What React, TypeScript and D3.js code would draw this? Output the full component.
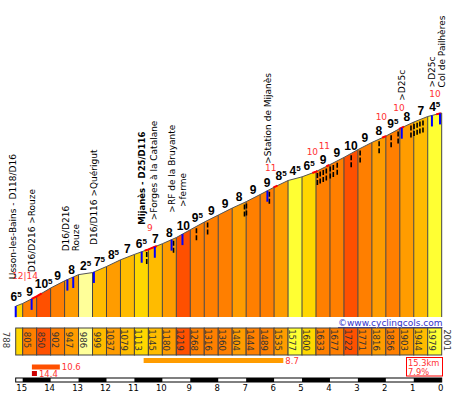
import React from 'react';
import * as d3 from 'd3';

// distance to the summit (km) for each altitude point
const kms = [15.25, 15, 14.5, 14, 13.5, 13, 12.5, 12, 11.5, 11, 10.5, 10, 9.5, 9, 8.5, 8,
  7.5, 7, 6.5, 6, 5.5, 5, 4.5, 4, 3.5, 3, 2.5, 2, 1.5, 1, 0.5, 0];
const altitudes = [788, 805, 850, 902, 947, 986, 999, 1037, 1079, 1113, 1145, 1180, 1219, 1268,
  1316, 1360, 1404, 1444, 1489, 1535, 1577, 1600, 1633, 1677, 1722, 1771, 1816, 1856, 1903,
  1944, 1979, 2001];
const gradients = ['6.5', '9', '10.5', '9', '8', '2.5', '7.5', '8.5', '7', '6.5', '7', '8', '10',
  '9.5', '9', '9', '8', '9', '9', '8.5', '4.5', '6.5', '9', '9', '10', '9', '8', '9.5', '8', '7', '4.5'];
const kmTicks = [15, 14, 13, 12, 11, 10, 9, 8, 7, 6, 5, 4, 3, 2, 1, 0];

const places = [
  { name: 'Usson-les-Bains - D118/D16', km: 15.38, bold: false },
  { name: 'D16/D216 >Rouze', km: 14.7, bold: false },
  { name: 'D16/D216\nRouze', km: 13.3, bold: false },
  { name: 'D16/D116 >Quérigut', km: 12.45, bold: false },
  { name: 'Mijanès - D25/D116', km: 10.74, bold: true },
  { name: '>Forges à la Catalane', km: 10.31, bold: false },
  { name: '>RF de la Bruyante', km: 9.67, bold: false },
  { name: '>ferme', km: 9.28, bold: false },
  { name: '>Station de Mijanès', km: 6.24, bold: false },
  { name: '>D25c', km: 1.43, bold: false },
  { name: '>D25c\nCol de Pailhères', km: 0.2, bold: false },
];
const junctionKms = [15.25, 14.68, 13.4, 13.19, 12.45, 10.74, 10.27, 9.67, 9.28, 6.24, 1.43, 0.35, 0.06];
const hairpinKms = [10.56, 9.6, 8.78, 8.38, 7.06, 6.99, 6.17, 4.45, 4.35, 4.24, 4.13, 3.99, 3.88,
  3.74, 3.24, 2.92, 2.24, 1.81, 1.56, 1.1, 0.99, 0.88, 0.78, 0.67];
const steepSections = [[14.68, 14.32], [10.63, 10.2], [6.02, 5.88], [4.63, 4.45], [4.13, 4.03],
  [2.13, 1.99], [1.53, 1.35], [0.2, 0.03]];
const steepLabels = [
  { km: 14.92, text: '12|14' }, { km: 10.45, text: '9' }, { km: 6.12, text: '11' },
  { km: 4.63, text: '10' }, { km: 4.2, text: '11' }, { km: 2.16, text: '10' },
  { km: 1.53, text: '10' }, { km: 0.24, text: '10' },
];
const maxGrades = [
  { km: 10.67, dist: 5, grade: 8.7 },
  { km: 14.67, dist: 1, grade: 10.6 },
  { km: 14.67, dist: 0.18, grade: 14.4 },
];
const totalDist = '15.3km';
const avgGrade = '7.9%';

const W = 457;
const H = 395;
const base = 317;
const cellTop = 328;
const cellH = 27;
const font = 'DejaVu Sans';

const gradeColor = (g: number) => {
  if (g >= 12) return '#CC0000';
  if (g >= 10) return '#FF5000';
  if (g >= 9) return '#FF7F00';
  if (g >= 8) return '#FF9C00';
  if (g >= 7) return '#FFBB00';
  if (g >= 5) return '#FFD700';
  if (g >= 3) return '#FFFF33';
  return '#FFFF99';
};

const App = () => {
  const x = d3.scaleLinear().domain([15.25, 0]).range([15.7, 441.7]);
  const y = d3.scaleLinear().domain([720, 2001]).range([base, 113]);
  const altAt = d3.scaleLinear().domain(kms).range(altitudes).clamp(true);
  const py = (km: number) => y(altAt(km));

  const pts = kms.map((k, i) => [k, altitudes[i]] as [number, number]);
  const line = d3.line<[number, number]>().x(d => x(d[0])).y(d => y(d[1]));
  const area = d3.area<[number, number]>().x(d => x(d[0])).y0(base).y1(d => y(d[1]));

  return (
    <svg width={W} height={H} style={{ position: 'absolute', left: 0, top: 0, background: '#fff' }}
      fontFamily={font}>
      {/* gradient bands */}
      {gradients.map((g, i) => (
        <path key={'b' + i} d={area([pts[i], pts[i + 1]]) as string} fill={gradeColor(+g)} />
      ))}
      {kms.map((k, i) => (
        <line key={'s' + i} x1={x(k)} x2={x(k)} y1={y(altitudes[i])} y2={base} stroke="#444" strokeWidth={1} />
      ))}
      <path d={line(pts) as string} fill="none" stroke="#555" strokeWidth={1} />

      {/* steep parts */}
      {steepSections.map(([a, b], i) => {
        const ks = [a, ...kms.filter(k => k < a && k > b), b];
        return <path key={'r' + i} d={line(ks.map(k => [k, altAt(k)] as [number, number])) as string}
          fill="none" stroke="#FF0000" strokeWidth={2} />;
      })}

      {/* hairpins */}
      {hairpinKms.map((k, i) => (
        <line key={'h' + i} x1={x(k)} x2={x(k)} y1={py(k) + 2} y2={py(k) + 15} stroke="#000"
          strokeWidth={1.6} strokeDasharray="5 2" />
      ))}
      {/* junctions */}
      {junctionKms.map((k, i) => (
        <line key={'j' + i} x1={x(k)} x2={x(k)} y1={py(k)} y2={py(k) + 11} stroke="#0000FF" strokeWidth={2} />
      ))}

      {/* gradient labels */}
      {gradients.map((g, i) => {
        const [whole, dec] = g.split('.');
        const cx = (x(kms[i]) + x(kms[i + 1])) / 2 - (i === 0 ? 3 : 0);
        const by = y((altitudes[i] + altitudes[i + 1]) / 2) - 4;
        return (
          <text key={'g' + i} x={cx} y={by} textAnchor="middle" fontFamily="Liberation Sans"
            fontWeight="bold" fontSize={12} fill="#000">
            <tspan>{whole}</tspan>
            {dec && <tspan fontSize={8} dy={-4}>{dec}</tspan>}
          </text>
        );
      })}

      {/* steepest percentages */}
      {steepLabels.map((s, i) => (
        <text key={'sl' + i} x={x(s.km)} y={py(s.km) - 18 - (i === 0 ? 5 : 0)} textAnchor="middle"
          fontSize={9} fill="#FF3333">{s.text}</text>
      ))}

      {/* place names */}
      {places.map((p, i) => {
        const lines = p.name.split('\n');
        const by = py(p.km) - 27;
        return lines.map((t, j) => {
          const bx = x(p.km) + 3.5 + (j - (lines.length - 1) / 2) * 10;
          return (
            <text key={'p' + i + '_' + j} transform={`translate(${bx},${by}) rotate(-90)`}
              fontSize={p.bold ? 8.5 : 9} fontWeight={p.bold ? 'bold' : 'normal'} fill="#000">{t}</text>
          );
        });
      })}

      <text x={338} y={326} fontSize={9} fill="#3333CC" textDecoration="underline">©www.cyclingcols.com</text>

      {/* altitude strip */}
      {gradients.map((g, i) => (
        <rect key={'c' + i} x={x(kms[i])} y={cellTop} width={x(kms[i + 1]) - x(kms[i])} height={cellH}
          fill={gradeColor(+g)} stroke="#444" strokeWidth={1} />
      ))}
      {altitudes.map((a, i) => {
        const bx = i === 0 ? 3 : i === altitudes.length - 1 ? x(0) + 2 : x(kms[i]) + 1;
        return (
          <text key={'a' + i} transform={`translate(${bx},${cellTop + 12}) rotate(90)`} textAnchor="middle"
            fontFamily="'Liberation Sans Narrow', 'DejaVu Sans Condensed', 'Liberation Sans'"
            fontSize={9.5} fill="#333">{a}</text>
        );
      })}

      {/* max gradient summary */}
      {maxGrades.map((m, i) => {
        const by = 358 + i * 6.5;
        const x0 = x(m.km);
        const x1 = x(m.km - m.dist);
        return (
          <g key={'m' + i}>
            <rect x={x0} y={by} width={x1 - x0} height={5} fill={gradeColor(m.grade)} />
            <text x={x1 + 2} y={by + 5.5} fontSize={8.5} fill="#FF3333">{m.grade}</text>
          </g>
        );
      })}
      <rect x={406.5} y={357.5} width={36} height={18.5} fill="none" stroke="#FF0000" strokeWidth={1} />
      <text x={408} y={366} fontSize={8.3} fill="#FF3333">{totalDist}</text>
      <text x={408} y={374.5} fontSize={8.3} fill="#FF3333">{avgGrade}</text>

      {/* km scale */}
      <rect x={x(15.25)} y={378} width={x(0) - x(15.25)} height={4} fill="#fff" stroke="#000" strokeWidth={1} />
      {kmTicks.filter(k => k > 0 && k % 2 === 1).map(k => (
        <rect key={'k' + k} x={x(k)} y={378} width={x(k - 1) - x(k)} height={4} fill="#000" />
      ))}
      {kmTicks.map(k => (
        <text key={'t' + k} x={x(k) - 1} y={391} textAnchor="middle" fontSize={8.5} fill="#000">{k}</text>
      ))}
    </svg>
  );
};

export default App;
